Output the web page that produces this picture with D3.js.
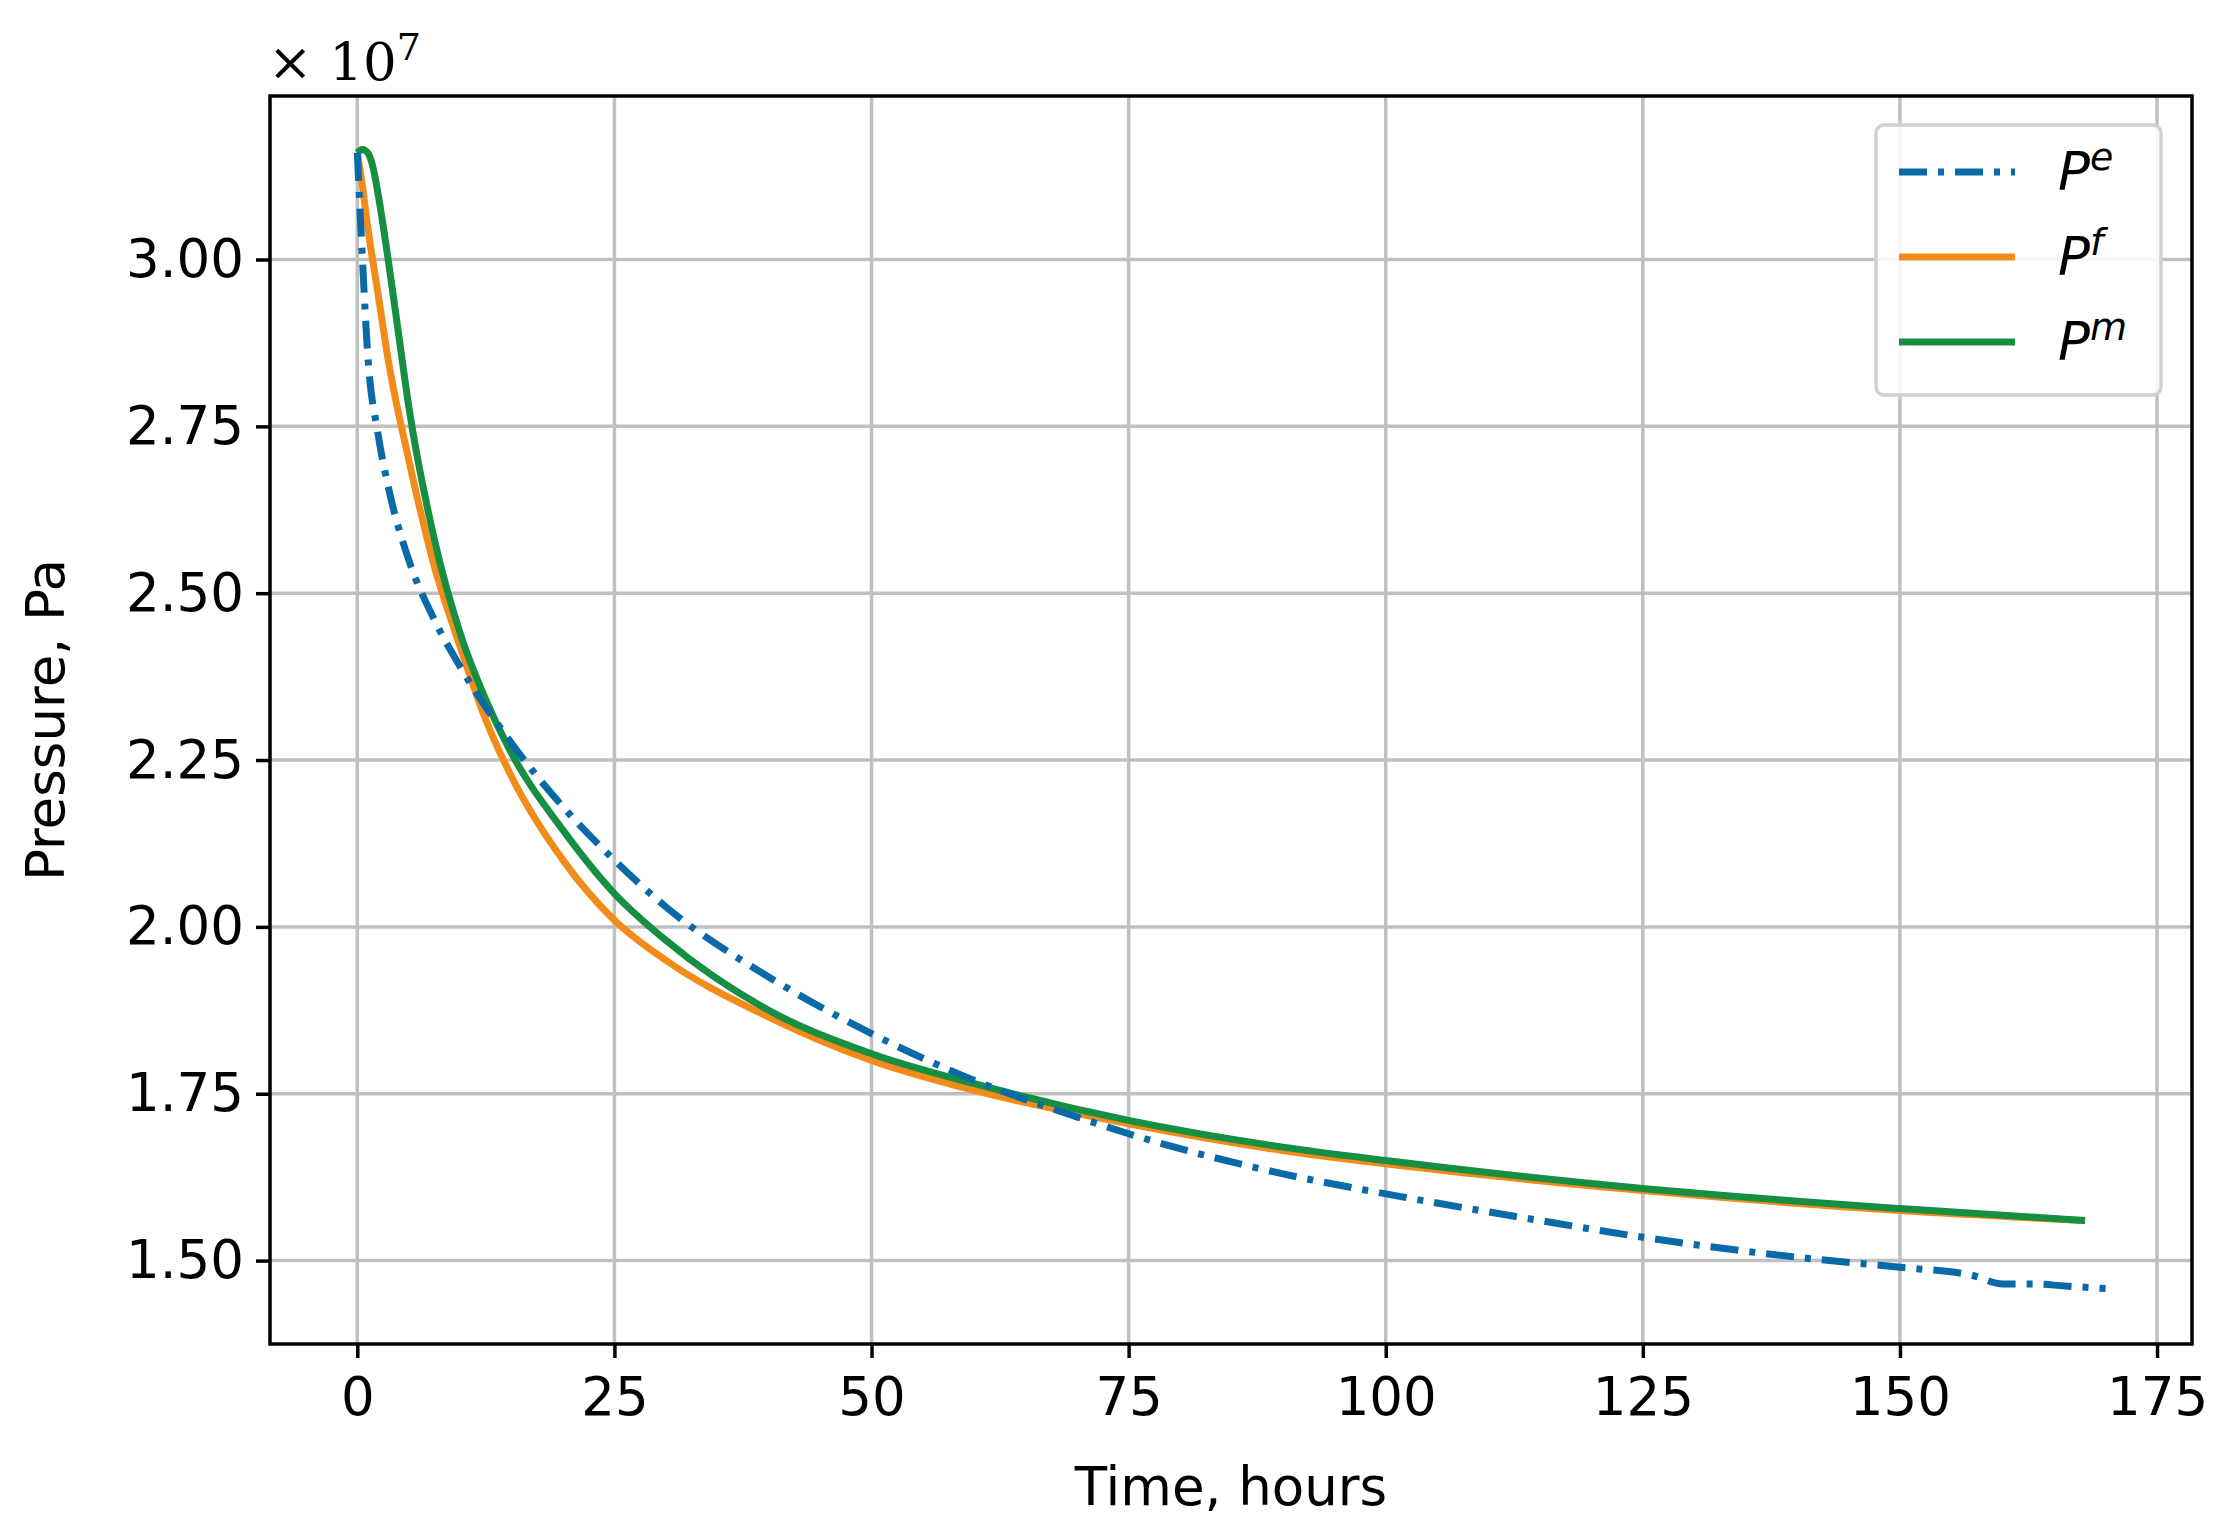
<!DOCTYPE html>
<html><head><meta charset="utf-8">
<script src="https://cdn.jsdelivr.net/npm/d3@7"></script>
<style>body{margin:0;background:#fff}</style>
</head><body><div id="chart"></div>
<script>
// values in units of 1e7 Pa
var timeE = [0,0.5,1,2,3,5,7.5,10,15,20,25,30,40,50,60,70,75,90,100,115,125,140,150,157,160,163,166,170];
var presE = [3.16,3.0,2.86,2.74,2.66,2.55,2.46,2.39,2.275,2.18,2.10,2.03,1.925,1.84,1.77,1.715,1.69,1.63,1.60,1.56,1.535,1.505,1.49,1.478,1.465,1.465,1.462,1.458];
var timeF = [0,0.5,1,2,3,5,7.5,10,12.5,15,20,25,30,40,50,60,75,90,100,125,150,168];
var presF = [3.16,3.11,3.05,2.95,2.85,2.70,2.54,2.42,2.31,2.225,2.10,2.01,1.95,1.865,1.80,1.755,1.705,1.665,1.645,1.605,1.575,1.56];
var timeM = [0,0.5,1,1.5,2,3,4,5,7.5,10,12.5,15,20,25,30,40,50,60,75,90,100,125,150,168];
var presM = [3.16,3.165,3.16,3.14,3.10,3.0,2.89,2.78,2.58,2.44,2.34,2.26,2.145,2.05,1.98,1.875,1.81,1.765,1.71,1.67,1.65,1.608,1.578,1.56];
var xTicks = [0,25,50,75,100,125,150,175];
var yTicks = [1.50,1.75,2.00,2.25,2.50,2.75,3.00];

var W = 2225, H = 1539;
var L = 270, R = 2192, T = 96, B = 1344;
var FS = 53;
var svg = d3.select("#chart").append("svg").attr("width", W).attr("height", H)
	.style("font-family", "DejaVu Sans");

var x = d3.scaleLinear().domain([-8.49, 178.4]).range([L, R]);
var y = d3.scaleLinear().domain([1.375, 3.245]).range([B, T]);

//grid
svg.selectAll(".gx").data(xTicks).enter().append("line")
	.attr("x1", d => x(d)).attr("x2", d => x(d)).attr("y1", T).attr("y2", B)
	.attr("stroke", "#c0c0c0").attr("stroke-width", 3.5);
svg.selectAll(".gy").data(yTicks).enter().append("line")
	.attr("y1", d => y(d)).attr("y2", d => y(d)).attr("x1", L).attr("x2", R)
	.attr("stroke", "#c0c0c0").attr("stroke-width", 3.5);

//axes
var xAxis = svg.append("g").attr("transform", "translate(0," + B + ")")
	.call(d3.axisBottom(x).tickValues(xTicks).tickSize(14).tickPadding(12).tickFormat(d3.format("d")));
var yAxis = svg.append("g").attr("transform", "translate(" + L + ",0)")
	.call(d3.axisLeft(y).tickValues(yTicks).tickSize(14).tickPadding(12).tickFormat(d3.format(".2f")));
[xAxis, yAxis].forEach(function(a){
	a.select(".domain").remove();
	a.selectAll("line").attr("stroke", "#000").attr("stroke-width", 3.5);
	a.selectAll("text").attr("font-size", FS).attr("font-family", "DejaVu Sans").attr("fill", "#000");
});
xAxis.selectAll("text").attr("dy", "0.85em");

var line = d3.line().x(d => x(d[0])).y(d => y(d[1])).curve(d3.curveMonotoneX);
var series = [
	{t: timeF, p: presF, color: "#f28b1a", dash: null},
	{t: timeM, p: presM, color: "#178f42", dash: null},
	{t: timeE, p: presE, color: "#0a6aa8", dash: "28,11,6,11"}
];
series.forEach(function(s){
	svg.append("path").datum(d3.zip(s.t, s.p)).attr("d", line)
		.attr("fill", "none").attr("stroke", s.color).attr("stroke-width", 7)
		.attr("stroke-dasharray", s.dash);
});

//frame
svg.append("rect").attr("x", L).attr("y", T).attr("width", R - L).attr("height", B - T)
	.attr("fill", "none").attr("stroke", "#000").attr("stroke-width", 3.5);

//labels
svg.append("text").attr("x", (L + R) / 2).attr("y", 1505).attr("text-anchor", "middle")
	.attr("font-size", FS).text("Time, hours");
svg.append("text").attr("transform", "translate(64," + (T + B) / 2 + ") rotate(-90)")
	.attr("text-anchor", "middle").attr("font-size", FS).text("Pressure, Pa");
var mult = svg.append("text").attr("x", 268).attr("y", 80).attr("font-family", "DejaVu Serif").attr("font-size", FS);
mult.append("tspan").text("× 10");
mult.append("tspan").attr("dy", -20).attr("font-size", 38).text("7");

//legend
var lg = svg.append("g");
lg.append("rect").attr("x", 1876).attr("y", 125).attr("width", 285).attr("height", 270).attr("rx", 8)
	.attr("fill", "#fff").attr("fill-opacity", 0.85).attr("stroke", "#d0d0d0").attr("stroke-width", 3.5);
var legItems = [
	{color: "#0a6aa8", dash: "28,11,6,11", sup: "e"},
	{color: "#f28b1a", dash: null, sup: "f"},
	{color: "#178f42", dash: null, sup: "m"}
];
legItems.forEach(function(d, i){
	var yy = 172 + i * 85;
	lg.append("line").attr("x1", 1899).attr("x2", 2015).attr("y1", yy).attr("y2", yy)
		.attr("stroke", d.color).attr("stroke-width", 7).attr("stroke-dasharray", d.dash);
	var t = lg.append("text").attr("x", 2058).attr("y", yy + 18).attr("font-size", FS).attr("font-style", "italic");
	t.append("tspan").text("P");
	t.append("tspan").attr("dy", -20).attr("font-size", 38).text(d.sup);
});
</script>
</body></html>
